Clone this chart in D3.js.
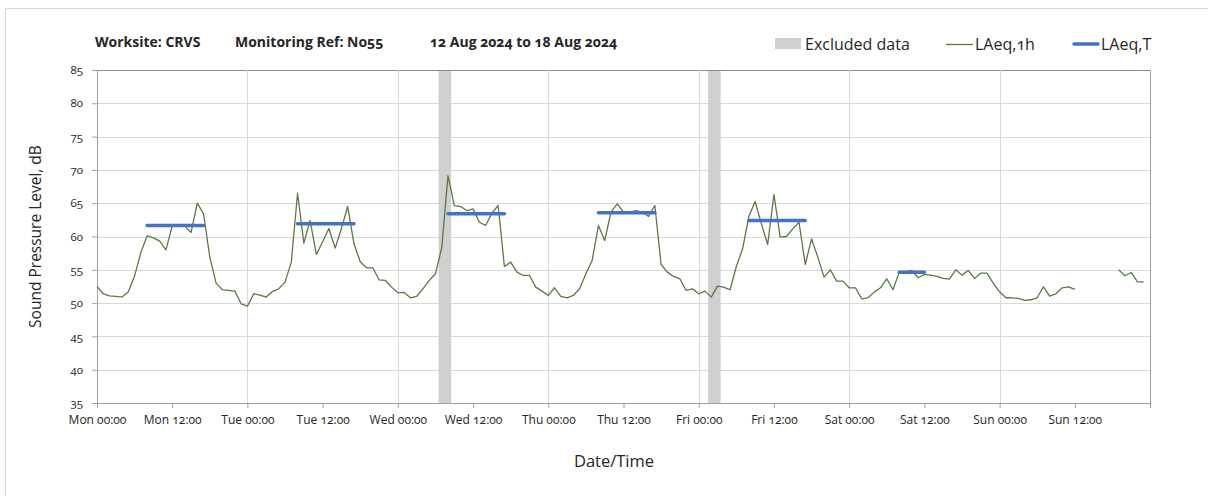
<!DOCTYPE html>
<html>
<head>
<meta charset="utf-8">
<script src="https://cdn.jsdelivr.net/npm/d3@7"></script>
<style>
  body { margin: 0; background: #fff; }
  svg text { font-family: "Open Sans", sans-serif; fill: #262626; font-feature-settings: "onum"; }
</style>
</head>
<body>
<svg id="chart" width="1208" height="496"></svg>
<script>
// hourly LAeq,1h from Mon 00:00 (hour 0) to Sun 23:00 (hour 167), null = no data
let laeq1h = [
  52.5, 51.4, 51.1, 51.0, 50.9, 51.7, 54.1, 57.6, 60.1, 59.8, 59.3, 58.0,
  61.6, 61.6, 61.6, 60.6, 65.0, 63.4, 56.9, 53.0, 52.0, 51.9, 51.8, 49.9,
  49.55, 51.4, 51.2, 50.9, 51.75, 52.15, 53.15, 56.15, 66.5, 59.0, 62.4, 57.3,
  59.2, 61.2, 58.25, 61.2, 64.5, 58.9, 56.2, 55.3, 55.3, 53.5, 53.4, 52.4,
  51.55, 51.6, 50.8, 51.0, 52.15, 53.4, 54.4, 58.3, 69.15, 64.65, 64.5, 63.9,
  64.15, 62.15, 61.65, 63.5, 64.65, 55.5, 56.15, 54.65, 54.15, 54.15, 52.4, 51.8,
  51.15, 52.3, 51.0, 50.8, 51.15, 52.15, 54.4, 56.4, 61.65, 59.4, 63.65, 64.9,
  63.65, 63.65, 63.9, 63.65, 63.0, 64.65, 55.8, 54.65, 54.0, 53.65, 51.9, 52.15,
  51.4, 51.8, 50.9, 52.55, 52.4, 52.0, 55.5, 58.15, 63.0, 65.25, 61.9, 58.8,
  66.3, 59.9, 60.0, 61.15, 62.15, 55.8, 59.65, 56.9, 53.9, 55.0, 53.3, 53.3,
  52.3, 52.3, 50.65, 50.8, 51.65, 52.3, 53.65, 52.0, 54.65, 54.7, 54.9, 53.8,
  54.3, 54.2, 54.0, 53.7, 53.6, 55.0, 54.2, 54.9, 53.7, 54.5, 54.5, 52.95,
  51.7, 50.8, 50.8, 50.7, 50.4, 50.5, 50.8, 52.45, 51.05, 51.4, 52.3, 52.45,
  52.05, null, null, null, null, null, null, 55.0, 54.1, 54.6, 53.2, 53.2
];

// LAeq,T periods (hours from Mon 00:00)
let periodStart = [8, 32, 56, 80, 104, 128];
let periodEnd = [17, 41, 65, 89, 113, 132];
let periodLevel = [61.65, 61.9, 63.4, 63.55, 62.4, 54.65];

// excluded data windows (hours from Mon 00:00)
let excludedStart = [54.5, 97.5];
let excludedEnd = [56.5, 99.5];

let days = ["Mon", "Tue", "Wed", "Thu", "Fri", "Sat", "Sun"];
let xTicks = d3.range(0, 168, 12);
let yTicks = d3.range(35, 86, 5);
let titleParts = ["Worksite: CRVS", "Monitoring Ref: No55", "12 Aug 2024 to 18 Aug 2024"];

let svg = d3.select("#chart");
let width = 1208, height = 496;
let plot = {left: 97, right: 1150, top: 70, bottom: 403};

let x = d3.scaleLinear().domain([0, 168]).range([plot.left, plot.right]);
let y = d3.scaleLinear().domain([35, 85]).range([plot.bottom, plot.top]);

function tickLabel(h){
  let d = days[Math.floor(h / 24)];
  let hh = h % 24;
  return d + " " + (hh < 10 ? "0" + hh : hh) + ":00";
}

// outer chart border
svg.append("rect")
  .attr("x", 5.5).attr("y", 8.5)
  .attr("width", width + 10).attr("height", height + 10)
  .style("fill", "none").style("stroke", "#d9d9d9");

// gridlines
svg.append("g").selectAll("line")
  .data(yTicks.filter(d => d > 35))
  .enter().append("line")
  .attr("x1", plot.left).attr("x2", plot.right)
  .attr("y1", d => Math.round(y(d)) + 0.5).attr("y2", d => Math.round(y(d)) + 0.5)
  .style("stroke", d => d == 85 ? "#8c8c8c" : "#d9d9d9");

svg.append("g").selectAll("line")
  .data(d3.range(24, 168, 24))
  .enter().append("line")
  .attr("x1", d => Math.round(x(d)) + 0.5).attr("x2", d => Math.round(x(d)) + 0.5)
  .attr("y1", plot.top).attr("y2", plot.bottom)
  .style("stroke", "#d9d9d9");

// excluded bands
svg.append("g").selectAll("rect")
  .data(excludedStart)
  .enter().append("rect")
  .attr("x", (d, i) => x(d))
  .attr("width", (d, i) => x(excludedEnd[i]) - x(d))
  .attr("y", plot.top + 1)
  .attr("height", plot.bottom - plot.top - 1)
  .style("fill", "#d0d0d0");

// axes
let xAxis = d3.axisBottom(x).tickValues(xTicks.concat([168])).tickSize(5).tickFormat(d => d < 168 ? tickLabel(d) : "");
let gx = svg.append("g").attr("transform", "translate(0," + plot.bottom + ")").call(xAxis);
gx.select(".domain").attr("d", "M" + plot.left + ",0.5H" + plot.right).style("stroke", "#a0a0a0");
gx.selectAll(".tick line").style("stroke", "#a0a0a0");
gx.selectAll(".tick text").attr("dy", "1.05em").style("font-size", "12px").style("font-family", "Open Sans");

let yAxis = d3.axisLeft(y).tickValues(yTicks).tickSize(5).tickPadding(9);
let gy = svg.append("g").attr("transform", "translate(" + plot.left + ",0)").call(yAxis);
gy.select(".domain").attr("d", "M0.5," + plot.top + "V" + plot.bottom).style("stroke", "#a0a0a0");
gy.selectAll(".tick line").style("stroke", "#a0a0a0");
gy.selectAll(".tick text").style("font-size", "11.5px").style("font-family", "Open Sans");

svg.append("line")
  .attr("x1", plot.right + 0.5).attr("x2", plot.right + 0.5)
  .attr("y1", plot.top).attr("y2", plot.bottom + 5)
  .style("stroke", "#a0a0a0");

// LAeq,1h line
let line = d3.line()
  .defined(d => d != null)
  .x((d, i) => x(i))
  .y(d => y(d));

svg.append("path")
  .datum(laeq1h)
  .attr("d", line)
  .style("fill", "none")
  .style("stroke", "#5a7a42")
  .style("stroke-width", 1.3)
  .style("stroke-linejoin", "round");

// LAeq,T segments
svg.append("g").selectAll("line")
  .data(periodLevel)
  .enter().append("line")
  .attr("x1", (d, i) => x(periodStart[i]))
  .attr("x2", (d, i) => x(periodEnd[i]))
  .attr("y1", d => y(d)).attr("y2", d => y(d))
  .style("stroke", "#4472c4")
  .style("stroke-width", 3.5)
  .style("stroke-linecap", "round");

// titles
let titleX = [95, 235, 430];
svg.append("g").style("font-weight", "bold").style("font-size", "14px")
  .selectAll("text")
  .data(titleParts)
  .enter().append("text")
  .attr("x", (d, i) => titleX[i]).attr("y", 47)
  .text(d => d);

svg.append("text")
  .attr("transform", "translate(41," + ((plot.top + plot.bottom) / 2) + ") rotate(-90)")
  .attr("text-anchor", "middle")
  .style("font-size", "15.5px")
  .text("Sound Pressure Level, dB");

svg.append("text")
  .attr("x", 614).attr("y", 467)
  .attr("text-anchor", "middle")
  .style("font-size", "16.5px")
  .text("Date/Time");

// legend
let legend = svg.append("g").style("font-size", "16px");
legend.append("rect").attr("x", 775).attr("y", 38).attr("width", 26).attr("height", 11).style("fill", "#d0d0d0");
legend.append("text").attr("x", 805).attr("y", 50).text("Excluded data");
legend.append("line").attr("x1", 946).attr("x2", 973).attr("y1", 44.5).attr("y2", 44.5)
  .style("stroke", "#5a7a42").style("stroke-width", 1.3);
legend.append("text").attr("x", 975).attr("y", 50).text("LAeq,1h");
legend.append("line").attr("x1", 1074).attr("x2", 1098).attr("y1", 44).attr("y2", 44)
  .style("stroke", "#4472c4").style("stroke-width", 3.5).style("stroke-linecap", "round");
legend.append("text").attr("x", 1101).attr("y", 50).text("LAeq,T");
</script>
</body>
</html>
